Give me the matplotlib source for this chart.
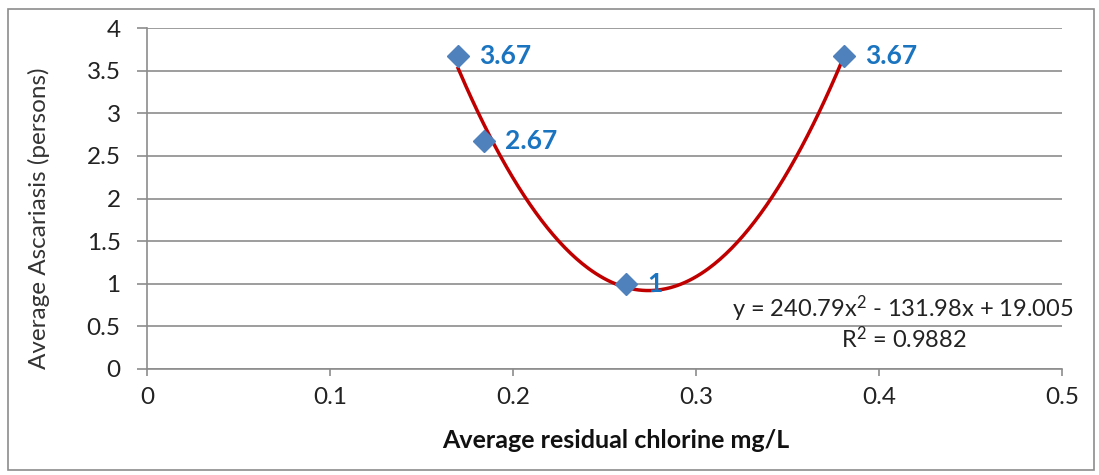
import numpy as np
import matplotlib.pyplot as plt
from matplotlib.patches import Rectangle

# datos
cloro = [0.170, 0.184, 0.262, 0.381]
ascariasis = [3.67, 2.67, 1.0, 3.67]
etiquetas = ["3.67", "2.67", "1", "3.67"]
coef = [240.79, -131.98, 19.005]   # linea de tendencia (polinomio grado 2)
r2 = 0.9882

x_ticks = [0, 0.1, 0.2, 0.3, 0.4, 0.5]
y_ticks = [0, 0.5, 1, 1.5, 2, 2.5, 3, 3.5, 4]

plt.rcParams['font.family'] = ['Lato', 'DejaVu Sans']
plt.rcParams['mathtext.fontset'] = 'custom'
plt.rcParams['mathtext.rm'] = 'Lato'
plt.rcParams['mathtext.default'] = 'regular'

fig = plt.figure(figsize=(10.99, 4.75), dpi=100)
fig.patches.append(Rectangle((0.007, 0.01), 0.988, 0.972, transform=fig.transFigure,
                             fill=False, edgecolor='#8c8c8c', linewidth=1.2))

ax = fig.add_axes([0.1338, 0.2232, 0.8325, 0.7178])
ax.set_xlim(0, 0.5)
ax.set_ylim(0, 4)
ax.set_xticks(x_ticks)
ax.set_xticklabels([f"{v:g}" for v in x_ticks])
ax.set_yticks(y_ticks)
ax.set_yticklabels([f"{v:g}" for v in y_ticks])

ax.grid(True, axis='y', color='#8c8c8c', linewidth=1.2)
ax.set_axisbelow(True)
for s in ['top', 'right']:
    ax.spines[s].set_visible(False)
for s in ['left', 'bottom']:
    ax.spines[s].set_color('#8c8c8c')
    ax.spines[s].set_linewidth(1.2)
ax.tick_params(axis='both', colors='#8c8c8c', width=1.2,
               labelcolor='#222222', labelsize=17.5)
ax.tick_params(axis='x', length=5, pad=8)
ax.tick_params(axis='y', length=7, pad=12)

# linea de tendencia
xs = np.linspace(min(cloro), max(cloro), 200)
ax.plot(xs, np.polyval(coef, xs), color='#c00000', linewidth=2.5, zorder=3)

# puntos
ax.plot(cloro, ascariasis, linestyle='none', marker='D', markersize=11,
        color='#4f81bd', zorder=4)
for x, y, t in zip(cloro, ascariasis, etiquetas):
    ax.annotate(t, (x, y), xytext=(15, 0), textcoords='offset points',
                va='center', ha='left', color='#1a74c0', fontsize=19,
                fontweight='bold', zorder=5)

ax.text(0.506, 0.71, f"y = {coef[0]}x$^2$ - {abs(coef[1])}x + {coef[2]}",
        ha='right', va='center', fontsize=17, color='#222222')
ax.text(0.4137, 0.36, f"R$^2$ = {r2}", ha='center', va='center',
        fontsize=17, color='#222222')

ax.set_xlabel("Average residual chlorine mg/L", fontsize=18, fontweight='bold',
              color='#111111')
ax.set_ylabel("Average Ascariasis (persons)", fontsize=17.5, color='#333333')
ax.xaxis.set_label_coords(0.512, -0.175)
ax.yaxis.set_label_coords(-0.106, 0.443)

fig.savefig("out.png", dpi=100)
